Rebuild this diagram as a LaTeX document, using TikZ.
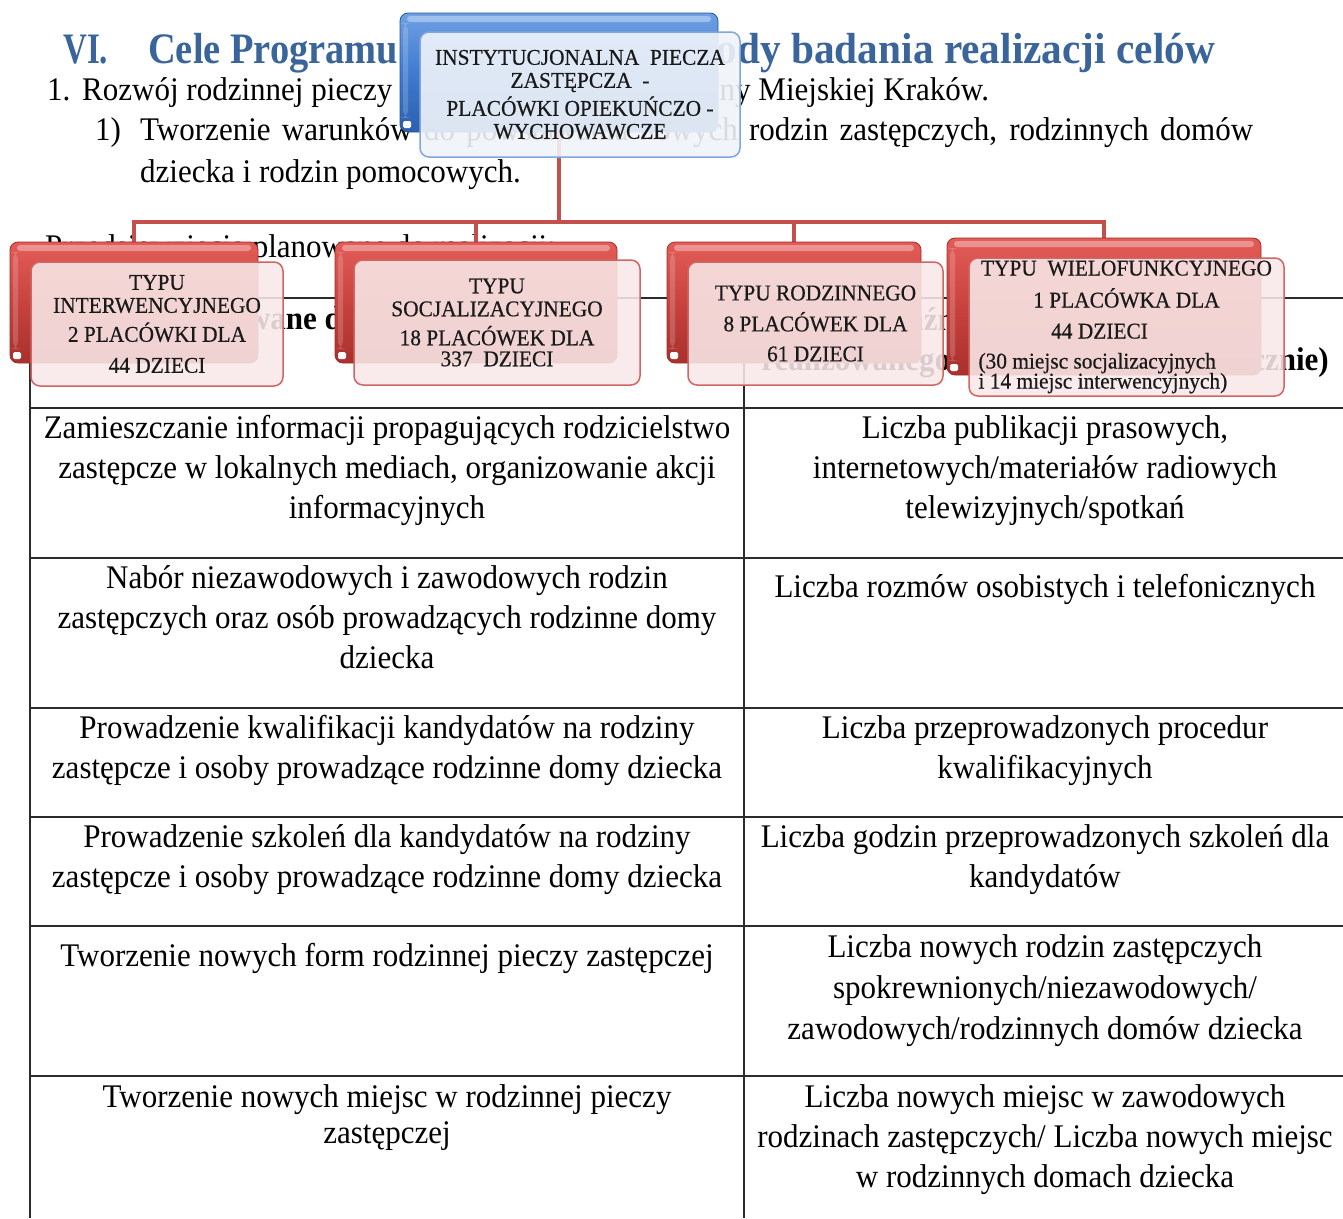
\documentclass[tikz,border=0pt]{standalone}
\usepackage{fontspec}
\usepackage{graphicx}
\setmainfont{Liberation Serif}
\newfontfamily\bodyf[FakeStretch=0.94]{Liberation Serif}
\newfontfamily\headf[FakeStretch=0.95]{Liberation Serif}
\newfontfamily\boxf[FakeStretch=0.95,FakeBold=0.5]{Liberation Serif}
\newcommand\boxfont{\boxf\fontsize{22.5}{23}\selectfont\lineskiplimit=-50pt\relax}
\pgfdeclarelayer{txt}
\pgfdeclarelayer{conn}
\pgfsetlayers{txt,conn,main}
\definecolor{headblue}{HTML}{3A659A}
\definecolor{connred}{HTML}{C4504C}
\definecolor{rtop}{HTML}{E35C58}
\definecolor{rmid}{HTML}{C8423E}
\definecolor{rbot}{HTML}{A9302C}
\definecolor{rdraw}{HTML}{9E2E2A}
\definecolor{rfill}{HTML}{F9E9E9}
\definecolor{rfdraw}{HTML}{CF6663}
\definecolor{btop}{HTML}{6FA0E3}
\definecolor{bmid}{HTML}{3F7BD0}
\definecolor{bbot}{HTML}{2C5FAE}
\definecolor{bdraw}{HTML}{2A5699}
\definecolor{bfill}{HTML}{F0F4FA}
\definecolor{bfdraw}{HTML}{7FA7DA}
\definecolor{tabline}{HTML}{2B2B2B}
\definecolor{boxtext}{HTML}{1A1A1A}
\begin{document}
\begin{tikzpicture}[x=1pt,y=-1pt,
  tl/.style={inner sep=0pt, font=\bodyf\fontsize{33}{40}\selectfont},
  cell/.style={tl, align=center, anchor=north, execute at begin node={\rule{0pt}{32pt}}},
  hcell/.style={cell, font=\bodyf\bfseries\fontsize{33}{40}\selectfont},
  tab/.style={draw=tabline, line width=1.8pt},
  conn/.style={draw=connred, line width=4.5pt},
  gloss/.style={path picture={
     \fill[white, opacity=0.35, rounded corners=3pt]
       ([xshift=7pt,yshift=-3pt]path picture bounding box.north west) rectangle
       ([xshift=-7pt,yshift=-9pt]path picture bounding box.north east);
     \fill[white, opacity=0.18]
       ([xshift=3pt,yshift=-10pt]path picture bounding box.north west) rectangle
       ([xshift=8pt,yshift=14pt]path picture bounding box.south west);
     \fill[white, rounded corners=1.5pt]
       ([xshift=3pt,yshift=4pt]path picture bounding box.south west) rectangle
       ([xshift=11pt,yshift=11pt]path picture bounding box.south west);}},
  redback/.style={rounded corners=8pt, draw=rdraw, line width=0.8pt, inner sep=0pt,
     top color=rtop, bottom color=rbot, middle color=rmid, gloss},
  blueback/.style={rounded corners=8pt, draw=bdraw, line width=0.8pt, inner sep=0pt,
     top color=btop, bottom color=bbot, middle color=bmid, gloss},
  boxtxt/.style={inner sep=0pt, align=center, text=boxtext, font=\boxfont},
  redfront/.style={boxtxt, rounded corners=9pt, draw=rfdraw, line width=1.5pt,
     fill=rfill, fill opacity=0.88, text opacity=1},
  bluefront/.style={boxtxt, rounded corners=9pt, draw=bfdraw, line width=1.5pt,
     fill=bfill, fill opacity=0.9, text opacity=1}
]
\useasboundingbox (0,0) rectangle (1343,1218);

\begin{pgfonlayer}{txt}
\fill[white] (0,0) rectangle (1343,1218);
% heading and body text
\node[tl, anchor=base west, font=\headf\bfseries\fontsize{43.5}{50}\selectfont, text=headblue] (title) at (63,63)
  {\makebox[1152pt][l]{\scalebox{0.8}[1]{VI.}\hspace{40pt}\scalebox{0.93}[1]{Cele Programu i}\hfill Metody badania realizacji celów}};
\node[tl, anchor=base west] (l1) at (47,100)
  {\makebox[35pt][l]{1.}Rozwój rodzinnej pieczy zastępczej na terenie Gminy Miejskiej Kraków.};
\node[tl, anchor=base west] (l2) at (95,140)
  {\makebox[45pt][l]{1)}\makebox[1113pt][s]{Tworzenie warunków do powstawania nowych rodzin zastępczych, rodzinnych domów}};
\node[tl, anchor=base west] (l3) at (140,182) {dziecka i rodzin pomocowych.};
\node[tl, anchor=base west] (l4) at (45,257) {Przedsięwzięcia planowane do realizacji:};

% table
\draw[tab] (30,298) -- (1343,298);
\foreach \yy in {408,558,708,817,926,1076} \draw[tab] (30,\yy) -- (1343,\yy);
\draw[tab] (30,298) -- (30,1218);
\draw[tab] (744,298) -- (744,1218);

\node[hcell, anchor=base west] (h1) at (40,329) {Działania planowane do realizacji};
\node[hcell] (h2) at (1045,307) {Wskaźniki realizacji (miernik\\realizowanego zadania – liczony corocznie)};

\node[cell] (r1l) at (387,415) {Zamieszczanie informacji propagujących rodzicielstwo\\zastępcze w lokalnych mediach, organizowanie akcji\\informacyjnych};
\node[cell] (r1r) at (1045,415) {Liczba publikacji prasowych,\\internetowych/materiałów radiowych\\telewizyjnych/spotkań};
\node[cell] (r2l) at (387,565) {Nabór niezawodowych i zawodowych rodzin\\zastępczych oraz osób prowadzących rodzinne domy\\dziecka};
\node[cell] (r2r) at (1045,565) {Liczba rozmów osobistych i telefonicznych};
\node[cell] (r3l) at (387,715) {Prowadzenie kwalifikacji kandydatów na rodziny\\zastępcze i osoby prowadzące rodzinne domy dziecka};
\node[cell] (r3r) at (1045,715) {Liczba przeprowadzonych procedur\\kwalifikacyjnych};
\node[cell] (r4l) at (387,824) {Prowadzenie szkoleń dla kandydatów na rodziny\\zastępcze i osoby prowadzące rodzinne domy dziecka};
\node[cell] (r4r) at (1045,824) {Liczba godzin przeprowadzonych szkoleń dla\\kandydatów};
\node[cell] (r5l) at (387,934) {Tworzenie nowych form rodzinnej pieczy zastępczej};
\node[cell, font=\bodyf\fontsize{33}{41}\selectfont] (r5r) at (1045,934) {Liczba nowych rodzin zastępczych\\spokrewnionych/niezawodowych/\\zawodowych/rodzinnych domów dziecka};
\node[cell, font=\bodyf\fontsize{33}{36}\selectfont] (r6l) at (387,1084) {Tworzenie nowych miejsc w rodzinnej pieczy\\zastępczej};
\node[cell] (r6r) at (1045,1084) {Liczba nowych miejsc w zawodowych\\rodzinach zastępczych/ Liczba nowych miejsc\\w rodzinnych domach dziecka};
\end{pgfonlayer}

% org chart boxes
\node[blueback, minimum width=318pt, minimum height=119pt] (rb) at (559,72.5) {};
\node[bluefront, minimum width=320pt, minimum height=125pt] (root) at (580,94.5)
  {INSTYTUCJONALNA\ \ PIECZA\\ZASTĘPCZA\ \ -\\[5pt]PLACÓWKI OPIEKUŃCZO -\\WYCHOWAWCZE};

\node[redback, minimum width=248pt, minimum height=121pt] (b1) at (134,302.5) {};
\node[redfront, minimum width=252pt, minimum height=124pt] (c1) at (157,324)
  {TYPU\\INTERWENCYJNEGO\\[6pt]2 PLACÓWKI DLA\\[8pt]44 DZIECI};

\node[redback, minimum width=282pt, minimum height=121pt] (b2) at (476,302.5) {};
\node[redfront, minimum width=286pt, minimum height=125pt] (c2) at (497,322.5)
  {TYPU\\SOCJALIZACYJNEGO\\[6pt]18 PLACÓWEK DLA\\[-2pt]337\ \ DZIECI};

\node[redback, minimum width=254pt, minimum height=121pt] (b3) at (794,302.5) {};
\node[redfront, minimum width=255pt, minimum height=123pt] (c3) at (815.5,323.5)
  {TYPU RODZINNEGO\\[8pt]8 PLACÓWEK DLA\\[7pt]61 DZIECI};

\node[redback, minimum width=314pt, minimum height=137pt] (b4) at (1104,306.5) {};
\node[redfront, align=left, minimum width=315pt, minimum height=138pt] (c4) at (1126.5,327)
  {\makebox[296pt]{TYPU\ \ WIELOFUNKCYJNEGO}\\[9pt]\makebox[296pt]{1 PLACÓWKA DLA}\\[8pt]\makebox[242pt]{44 DZIECI}\\[7pt](30 miejsc socjalizacyjnych\\[-3pt]i 14 miejsc interwencyjnych)};

% connectors
\begin{pgfonlayer}{conn}
\coordinate (bus) at (559,222);
\draw[conn] (rb.south) -- (bus);
\draw[conn] (b1.north) |- (bus) -| (b4.north);
\draw[conn] (b2.north) -- (b2.north |- bus);
\draw[conn] (b3.north) -- (b3.north |- bus);
\end{pgfonlayer}
\end{tikzpicture}
\end{document}
